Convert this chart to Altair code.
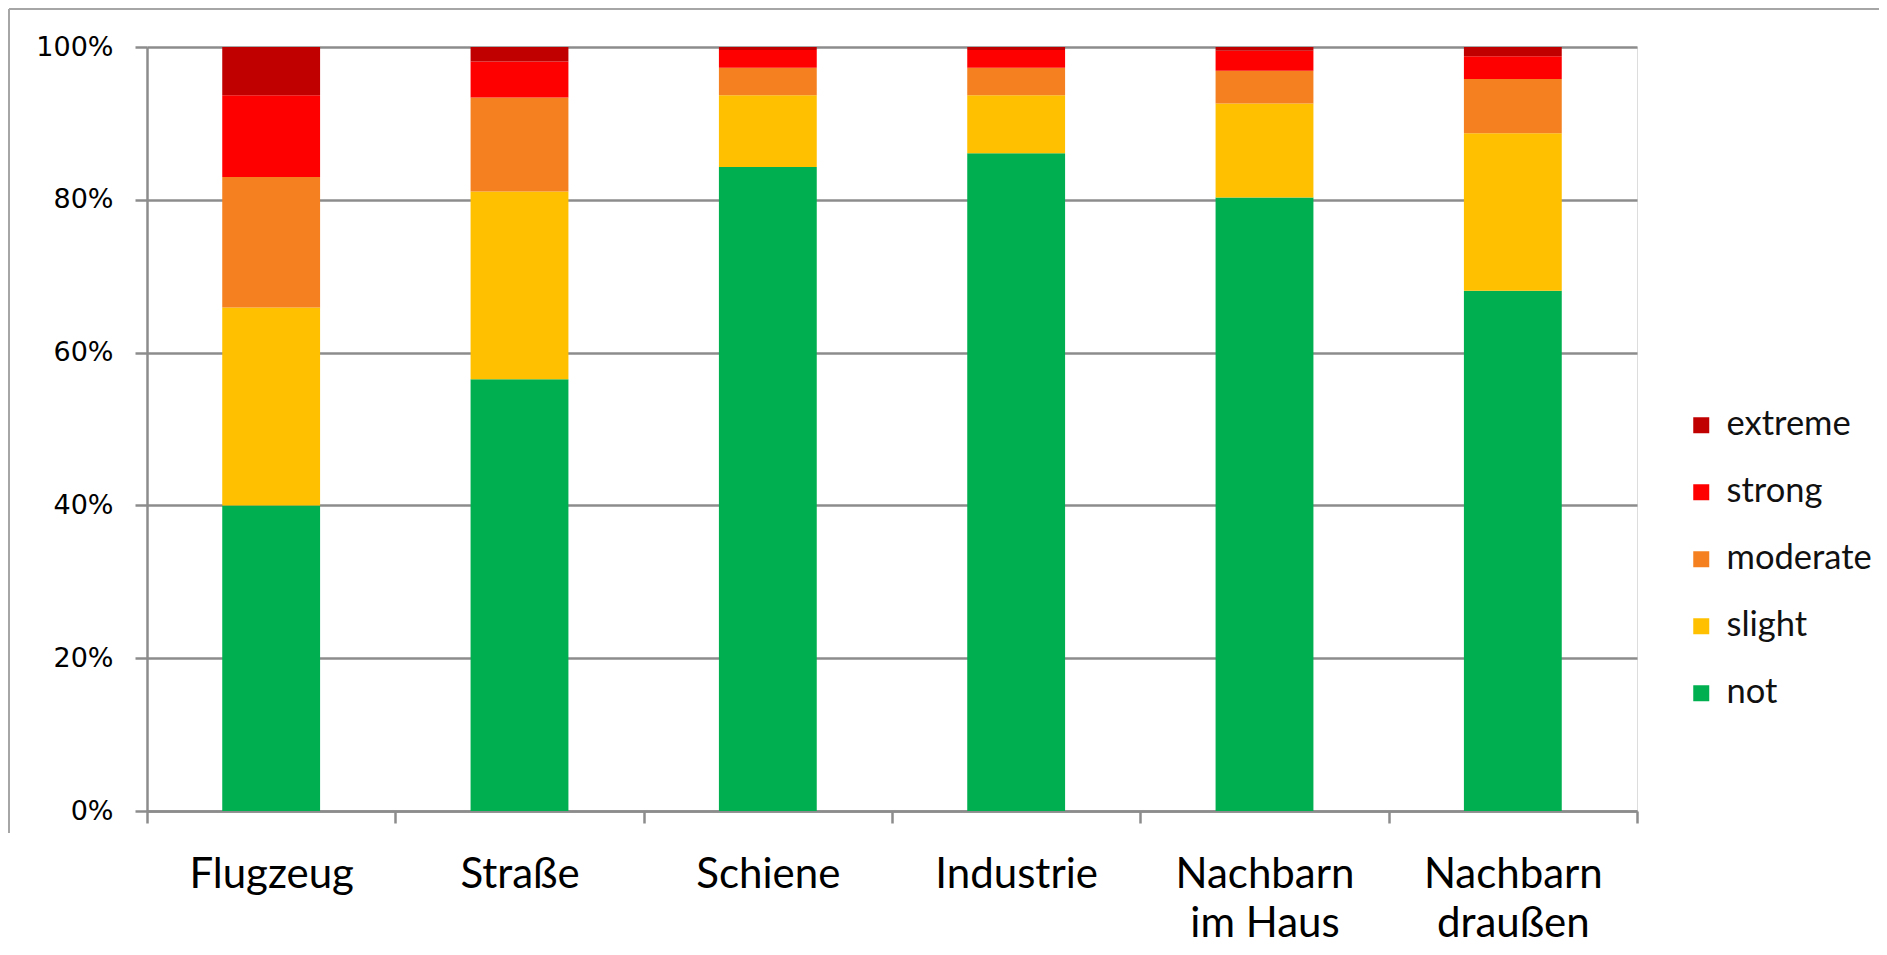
import altair as alt
import pandas as pd

categories = ["Flugzeug", "Straße", "Schiene", "Industrie", "Nachbarn\nim Haus", "Nachbarn\ndraußen"]
levels = ["extreme", "strong", "moderate", "slight", "not"]
colors = ["#C00000", "#FF0000", "#F4801F", "#FFC000", "#00B050"]

not_vals = [40.0, 56.5, 84.3, 86.1, 80.3, 68.1]
slight_vals = [25.9, 24.6, 9.4, 7.6, 12.3, 20.6]
moderate_vals = [17.1, 12.3, 3.6, 3.6, 4.3, 7.1]
strong_vals = [10.7, 4.7, 2.3, 2.3, 2.6, 3.0]
extreme_vals = [6.3, 1.9, 0.4, 0.4, 0.5, 1.2]

series = {
    "not": not_vals,
    "slight": slight_vals,
    "moderate": moderate_vals,
    "strong": strong_vals,
    "extreme": extreme_vals,
}
stack_rank = {"not": 0, "slight": 1, "moderate": 2, "strong": 3, "extreme": 4}

rows = []
for lvl, vals in series.items():
    for cat, v in zip(categories, vals):
        rows.append({"category": cat, "level": lvl, "value": v / 100.0, "rank": stack_rank[lvl]})
df = pd.DataFrame(rows)

W, H = 1490, 764
GRID = "#8c8c8c"

bars = alt.Chart(df).mark_bar(width=alt.RelativeBandSize(0.394)).encode(
    x=alt.X(
        "category:N",
        sort=categories,
        scale=alt.Scale(paddingInner=0, paddingOuter=0),
        axis=alt.Axis(
            title=None,
            labelAngle=0,
            labelFont="Lato",
            labelFontSize=42,
            labelColor="#000000",
            labelExpr="split(datum.label, '\\n')",
            labelLineHeight=49,
            labelBaseline="alphabetic",
            labelPadding=64,
            tickBand="extent",
            tickSize=12,
            tickColor=GRID,
            tickWidth=2.5,
            domainColor=GRID,
            domainWidth=2.5,
            grid=False,
        ),
    ),
    y=alt.Y(
        "value:Q",
        stack="zero",
        scale=alt.Scale(domain=[0, 1], nice=False),
        axis=alt.Axis(
            title=None,
            format=".0%",
            values=[0, 0.2, 0.4, 0.6, 0.8, 1.0],
            labelFont="DejaVu Sans",
            labelFontSize=27,
            labelColor="#000000",
            labelPadding=22,
            tickSize=12,
            tickColor=GRID,
            tickWidth=2.5,
            domainColor=GRID,
            domainWidth=2.5,
            grid=True,
            gridColor=GRID,
            gridWidth=2.5,
        ),
    ),
    color=alt.Color(
        "level:N",
        scale=alt.Scale(domain=levels, range=colors),
        legend=alt.Legend(
            title=None,
            orient="none",
            legendX=1537,
            legendY=361,
            padding=0,
            symbolType="square",
            symbolSize=256,
            symbolStrokeWidth=0,
            labelFont="Lato",
            labelFontSize=34.5,
            labelColor="#111111",
            labelOffset=8,
            rowPadding=32,
        ),
    ),
    order=alt.Order("rank:Q", sort="ascending"),
)

frame_df = pd.DataFrame({"a": [0]})
frame_left = alt.Chart(frame_df).mark_rule(color="#a6a6a6", strokeWidth=2).encode(
    x=alt.value(-138), y=alt.value(-38), y2=alt.value(H + 22)
)
frame_top = alt.Chart(frame_df).mark_rule(color="#a6a6a6", strokeWidth=2).encode(
    x=alt.value(-138), x2=alt.value(1734), y=alt.value(-38)
)

chart = alt.layer(bars, frame_left, frame_top).properties(
    width=W,
    height=H,
    autosize=alt.AutoSizeParams(type="none"),
    padding={"left": 139, "top": 39, "right": 242, "bottom": 136},
).configure_view(stroke=None).configure(background="white")

chart.save("out.html", embed_options={"renderer": "svg", "actions": False})
